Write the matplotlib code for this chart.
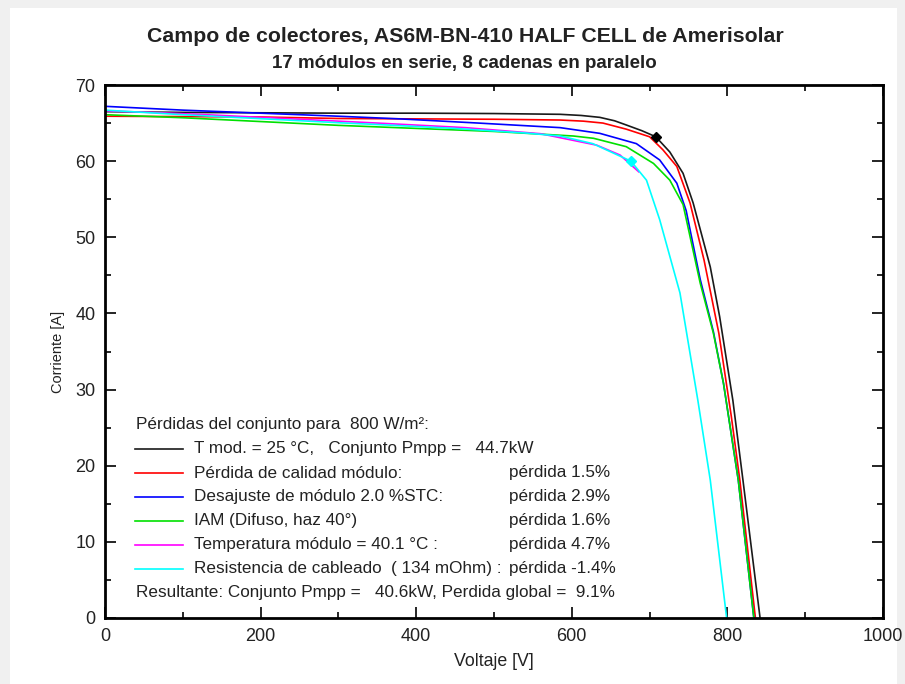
import matplotlib
matplotlib.use("Agg")
import matplotlib.pyplot as plt
from matplotlib.patches import Rectangle
from matplotlib.ticker import MultipleLocator

plt.rcParams['font.family'] = ['Liberation Sans', 'DejaVu Sans']

# ---- data ----
v_black = [0, 100, 200, 300, 400, 500, 585, 612, 636, 655, 670, 690, 708, 726, 743, 756, 778, 790, 807, 820, 842]
i_black = [66.5, 66.4, 66.35, 66.3, 66.3, 66.25, 66.15, 66.0, 65.75, 65.3, 64.75, 64.0, 63.2, 61.2, 58.4, 54.5, 46.1, 39.6, 28.6, 18.1, 0]

v_red = [0, 100, 200, 300, 400, 500, 585, 615, 640, 670, 700, 717, 735, 752, 770, 789, 805, 816, 836]
i_red = [65.9, 65.85, 65.8, 65.6, 65.55, 65.5, 65.4, 65.25, 65.0, 64.2, 63.2, 61.5, 59.3, 54.5, 47.0, 37.4, 26.5, 18.1, 0]

v_blue = [0, 100, 200, 300, 379, 480, 585, 636, 683, 713, 735, 747, 765, 782, 795, 814, 834]
i_blue = [67.2, 66.7, 66.3, 65.9, 65.55, 65.0, 64.4, 63.65, 62.3, 60.15, 57.1, 53.5, 44.5, 37.6, 30.8, 18.1, 0]

v_green = [0, 100, 200, 300, 400, 500, 602, 628, 670, 705, 726, 743, 765, 782, 795, 814, 834]
i_green = [66.1, 65.7, 65.2, 64.7, 64.3, 63.9, 63.3, 63.0, 61.9, 59.7, 57.5, 54.3, 44.0, 37.4, 30.8, 18.1, 0]

v_magenta = [0, 60, 130, 250, 350, 463, 560, 632, 662, 686]
i_magenta = [66.6, 66.4, 66.1, 65.5, 65.0, 64.4, 63.6, 62.1, 60.8, 58.6]

v_cyan = [0, 100, 215, 309, 352, 450, 540, 585, 627, 676, 696, 713, 739, 762, 778, 799]
i_cyan = [66.7, 66.1, 65.5, 65.0, 64.8, 64.3, 63.7, 63.3, 62.3, 60.0, 57.5, 52.3, 42.7, 28.6, 18.1, 0]

mpp_black = (708, 63.2)
mpp_cyan = (676, 60.0)

series_labels = [
    "T mod. = 25 °C,   Conjunto Pmpp =   44.7kW",
    "Pérdida de calidad módulo:",
    "Desajuste de módulo 2.0 %STC:",
    "IAM (Difuso, haz 40°)",
    "Temperatura módulo = 40.1 °C :",
    "Resistencia de cableado  ( 134 mOhm) :",
]
loss_labels = ["", "pérdida 1.5%", "pérdida 2.9%", "pérdida 1.6%", "pérdida 4.7%", "pérdida -1.4%"]
colors = ["#1a1a1a", "#ff0000", "#0000ff", "#00e000", "#ff00ff", "#00ffff"]

title = "Campo de colectores, AS6M-BN-410 HALF CELL de Amerisolar"
subtitle = "17 módulos en serie, 8 cadenas en paralelo"
header = "Pérdidas del conjunto para  800 W/m²:"
footer = "Resultante: Conjunto Pmpp =   40.6kW, Perdida global =  9.1%"

txt = "#222222"

# ---- figure ----
fig = plt.figure(figsize=(9.05, 6.84), dpi=100, facecolor="#f0f0f0")
fig.patches.append(Rectangle((10/905, 0), 887/905, 676/684, transform=fig.transFigure,
                             facecolor="white", edgecolor="none", zorder=-10))
ax = fig.add_axes([105/905, 1 - 618/684, 778/905, 533/684])
ax.set_facecolor("white")

curves = [(v_black, i_black), (v_red, i_red), (v_blue, i_blue),
          (v_green, i_green), (v_magenta, i_magenta), (v_cyan, i_cyan)]
for (v, i), c in zip(curves, colors):
    ax.plot(v, i, color=c, lw=1.2)

ax.plot(*mpp_black, marker="D", color="black", ms=5.5)
ax.plot(*mpp_cyan, marker="D", color="#00ffff", ms=5.5)

ax.set_xlim(0, 1000)
ax.set_ylim(0, 70)
ax.xaxis.set_major_locator(MultipleLocator(200))
ax.xaxis.set_minor_locator(MultipleLocator(100))
ax.yaxis.set_major_locator(MultipleLocator(10))
ax.yaxis.set_minor_locator(MultipleLocator(5))
ax.tick_params(which="both", direction="in", top=True, right=True, width=1.2,
               labelsize=13, labelcolor=txt)
ax.tick_params(axis="x", which="major", pad=7)
ax.tick_params(axis="y", which="major", pad=7)
ax.tick_params(which="major", length=8)
ax.tick_params(which="minor", length=4)
for s in ax.spines.values():
    s.set_linewidth(2)

ax.set_xlabel("Voltaje [V]", fontsize=12.8, color=txt, labelpad=6)
ax.set_ylabel("Corriente [A]", fontsize=10.5, color=txt, labelpad=7)

fig.text(465/905, 1 - 37/684, title, ha="center", va="center", fontsize=15.3,
         fontweight="bold", color=txt)
fig.text(464/905, 1 - 63/684, subtitle, ha="center", va="center", fontsize=13.5,
         fontweight="bold", color=txt)

# ---- legend block ----
fs = 12.3
y0 = (618 - 425) / 533
dy = 24 / 533
ax.text(0.040, y0, header, transform=ax.transAxes, fontsize=fs, va="center", color=txt)
for k, (lab, loss, c) in enumerate(zip(series_labels, loss_labels, colors)):
    y = y0 - (k + 1) * dy
    ax.plot([0.0386, 0.1003], [y, y], transform=ax.transAxes, color=c, lw=1.2)
    ax.text(0.1144, y, lab, transform=ax.transAxes, fontsize=fs, va="center", color=txt)
    if loss:
        ax.text(0.519, y, loss, transform=ax.transAxes, fontsize=fs, va="center", color=txt)
ax.text(0.040, y0 - 7 * dy, footer, transform=ax.transAxes, fontsize=fs, va="center", color=txt)

fig.savefig("out.png", dpi=100, facecolor=fig.get_facecolor())
